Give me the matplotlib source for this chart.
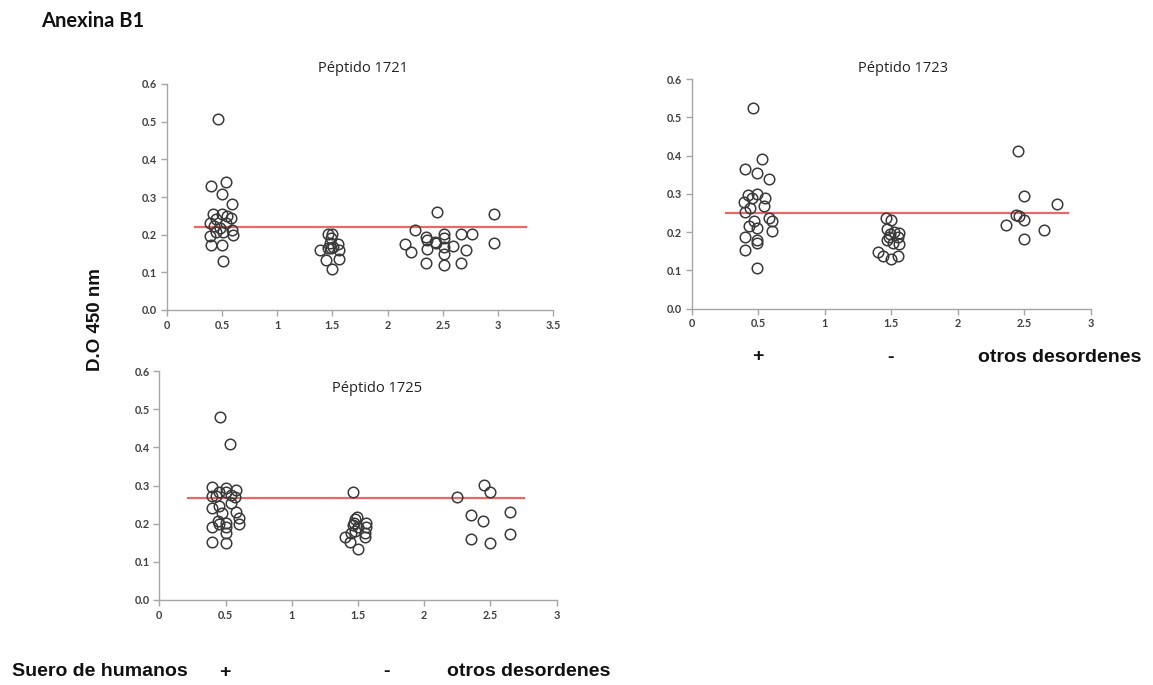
import matplotlib
matplotlib.use("Agg")
import matplotlib.pyplot as plt
from matplotlib.ticker import FixedLocator, FuncFormatter

# ---- data ----
# Péptido 1721
p1721_pos_x = [0.46, 0.54, 0.40, 0.50, 0.59, 0.42, 0.50, 0.55, 0.58, 0.45, 0.39, 0.54, 0.43, 0.48, 0.59, 0.45, 0.51, 0.39, 0.60, 0.40, 0.50, 0.51]
p1721_pos_y = [0.506, 0.341, 0.329, 0.307, 0.281, 0.254, 0.254, 0.250, 0.243, 0.242, 0.230, 0.230, 0.224, 0.219, 0.212, 0.208, 0.208, 0.197, 0.199, 0.173, 0.173, 0.130]
p1721_neg_x = [1.46, 1.50, 1.49, 1.48, 1.55, 1.46, 1.51, 1.56, 1.39, 1.44, 1.56, 1.50, 1.49]
p1721_neg_y = [0.202, 0.202, 0.190, 0.177, 0.174, 0.165, 0.168, 0.159, 0.158, 0.133, 0.135, 0.109, 0.164]
p1721_oth_x = [2.45, 2.96, 2.25, 2.51, 2.66, 2.76, 2.35, 2.51, 2.36, 2.44, 2.43, 2.16, 2.59, 2.96, 2.51, 2.36, 2.21, 2.71, 2.51, 2.35, 2.66, 2.51]
p1721_oth_y = [0.259, 0.255, 0.212, 0.202, 0.202, 0.202, 0.195, 0.190, 0.186, 0.179, 0.181, 0.175, 0.171, 0.179, 0.168, 0.162, 0.153, 0.159, 0.148, 0.124, 0.126, 0.119]
p1721_cut = 0.221
p1721_cut_x = [0.26, 3.25]

# Péptido 1723
p1723_pos_x = [0.46, 0.53, 0.40, 0.49, 0.58, 0.42, 0.49, 0.45, 0.55, 0.39, 0.44, 0.54, 0.40, 0.58, 0.60, 0.47, 0.43, 0.49, 0.60, 0.40, 0.49, 0.49, 0.40, 0.49]
p1723_pos_y = [0.525, 0.390, 0.365, 0.354, 0.339, 0.297, 0.299, 0.290, 0.290, 0.280, 0.262, 0.269, 0.253, 0.238, 0.230, 0.230, 0.216, 0.210, 0.203, 0.188, 0.179, 0.172, 0.154, 0.106]
p1723_neg_x = [1.46, 1.50, 1.47, 1.52, 1.56, 1.48, 1.47, 1.55, 1.51, 1.56, 1.49, 1.40, 1.44, 1.50, 1.55]
p1723_neg_y = [0.238, 0.232, 0.207, 0.201, 0.197, 0.188, 0.179, 0.188, 0.172, 0.168, 0.195, 0.147, 0.138, 0.131, 0.138]
p1723_oth_x = [2.45, 2.50, 2.75, 2.44, 2.46, 2.50, 2.36, 2.65, 2.50]
p1723_oth_y = [0.413, 0.295, 0.273, 0.245, 0.243, 0.232, 0.219, 0.206, 0.183]
p1723_cut = 0.251
p1723_cut_x = [0.255, 2.83]

# Péptido 1725
p1725_pos_x = [0.46, 0.53, 0.40, 0.50, 0.58, 0.45, 0.50, 0.54, 0.40, 0.43, 0.57, 0.54, 0.45, 0.40, 0.58, 0.47, 0.60, 0.44, 0.50, 0.45, 0.50, 0.60, 0.40, 0.50, 0.40, 0.50]
p1725_pos_y = [0.479, 0.409, 0.297, 0.293, 0.288, 0.282, 0.282, 0.275, 0.272, 0.272, 0.271, 0.253, 0.247, 0.240, 0.230, 0.227, 0.214, 0.207, 0.203, 0.198, 0.192, 0.198, 0.192, 0.175, 0.153, 0.150]
p1725_neg_x = [1.46, 1.49, 1.48, 1.47, 1.46, 1.56, 1.56, 1.50, 1.48, 1.55, 1.45, 1.40, 1.55, 1.44, 1.50]
p1725_neg_y = [0.284, 0.218, 0.211, 0.201, 0.197, 0.201, 0.192, 0.192, 0.182, 0.176, 0.175, 0.164, 0.164, 0.151, 0.134]
p1725_oth_x = [2.45, 2.50, 2.25, 2.65, 2.35, 2.44, 2.65, 2.35, 2.50]
p1725_oth_y = [0.301, 0.284, 0.269, 0.231, 0.224, 0.208, 0.172, 0.160, 0.150]
p1725_cut = 0.266
p1725_cut_x = [0.22, 2.75]

y_ticks = [0.0, 0.1, 0.2, 0.3, 0.4, 0.5, 0.6]
x_ticks_a = [0, 0.5, 1, 1.5, 2, 2.5, 3, 3.5]
x_ticks_b = [0, 0.5, 1, 1.5, 2, 2.5, 3]

fig = plt.figure(figsize=(11.53, 6.85), dpi=100)

TICK_FONT = "Lato"
SPINE = "#a6a6a6"


def fmt_x(v, pos):
    return ("%g" % v)


def panel(rect, xs, ys, cut, cut_x, xmax, xticks, title, title_xy):
    ax = fig.add_axes(rect)
    for x, y in zip(xs, ys):
        ax.plot(x, y, linestyle="none", marker="o", markersize=7.6,
                markerfacecolor="none", markeredgecolor="#3a3a3a",
                markeredgewidth=1.1, zorder=3)
    ax.plot(cut_x, [cut, cut], color="#e66a66", linewidth=1.6, zorder=2)
    ax.set_xlim(0, xmax)
    ax.set_ylim(0, 0.6)
    ax.xaxis.set_major_locator(FixedLocator(xticks))
    ax.yaxis.set_major_locator(FixedLocator(y_ticks))
    ax.xaxis.set_major_formatter(FuncFormatter(fmt_x))
    ax.yaxis.set_major_formatter(FuncFormatter(lambda v, p: "%.1f" % v))
    for s in ["top", "right"]:
        ax.spines[s].set_visible(False)
    for s in ["left", "bottom"]:
        ax.spines[s].set_color(SPINE)
        ax.spines[s].set_linewidth(1.0)
    ax.tick_params(axis="both", direction="out", length=4, width=1.0,
                   color=SPINE, labelsize=7.8, labelcolor="#404040", pad=3)
    for lab in ax.get_xticklabels() + ax.get_yticklabels():
        lab.set_fontfamily(TICK_FONT)
        lab.set_fontweight("bold")
    for ln in ax.lines:
        ln.set_clip_on(False)
    fig.text(title_xy[0], title_xy[1], title, ha="center", va="center",
             fontsize=10.5, family="Open Sans", color="#222222")
    return ax


W, H = 1153.0, 685.0


def rect(x0, x1, ytop, ybot):
    return [x0 / W, 1 - ybot / H, (x1 - x0) / W, (ybot - ytop) / H]


panel(rect(166.7, 553.3, 84, 310),
      p1721_pos_x + p1721_neg_x + p1721_oth_x,
      p1721_pos_y + p1721_neg_y + p1721_oth_y,
      p1721_cut, p1721_cut_x, 3.5, x_ticks_a, "Péptido 1721",
      (363 / W, 1 - 69 / H))
panel(rect(691.7, 1090.7, 79, 308.7),
      p1723_pos_x + p1723_neg_x + p1723_oth_x,
      p1723_pos_y + p1723_neg_y + p1723_oth_y,
      p1723_cut, p1723_cut_x, 3, x_ticks_b, "Péptido 1723",
      (903 / W, 1 - 68 / H))
panel(rect(159.3, 556.7, 371, 600),
      p1725_pos_x + p1725_neg_x + p1725_oth_x,
      p1725_pos_y + p1725_neg_y + p1725_oth_y,
      p1725_cut, p1725_cut_x, 3, x_ticks_b, "Péptido 1725",
      (377 / W, 1 - 388 / H))

# Figure texts
fig.text(41 / W, 1 - 21 / H, "Anexina B1", ha="left", va="center",
         fontsize=14.5, fontweight="bold", family="Lato", color="#111111")
fig.text(95 / W, 1 - 320 / H, "D.O 450 nm", ha="center", va="center",
         rotation=90, fontsize=13.5, fontweight="bold",
         family="Liberation Sans", color="#111111")

lab_kw = dict(fontsize=14, fontweight="bold", family="Liberation Sans",
              color="#111111", va="center")
fig.text(12 / W, 1 - 672 / H, "Suero de humanos", ha="left", **lab_kw)
fig.text(225 / W, 1 - 672 / H, "+", ha="center", **lab_kw)
fig.text(387 / W, 1 - 672 / H, "-", ha="center", **lab_kw)
fig.text(447 / W, 1 - 672 / H, "otros desordenes", ha="left", **lab_kw)

fig.text(758 / W, 1 - 357 / H, "+", ha="center", **lab_kw)
fig.text(890 / W, 1 - 357 / H, "-", ha="center", **lab_kw)
fig.text(978 / W, 1 - 357 / H, "otros desordenes", ha="left", **lab_kw)

fig.savefig("out.png", dpi=100, facecolor="white")
